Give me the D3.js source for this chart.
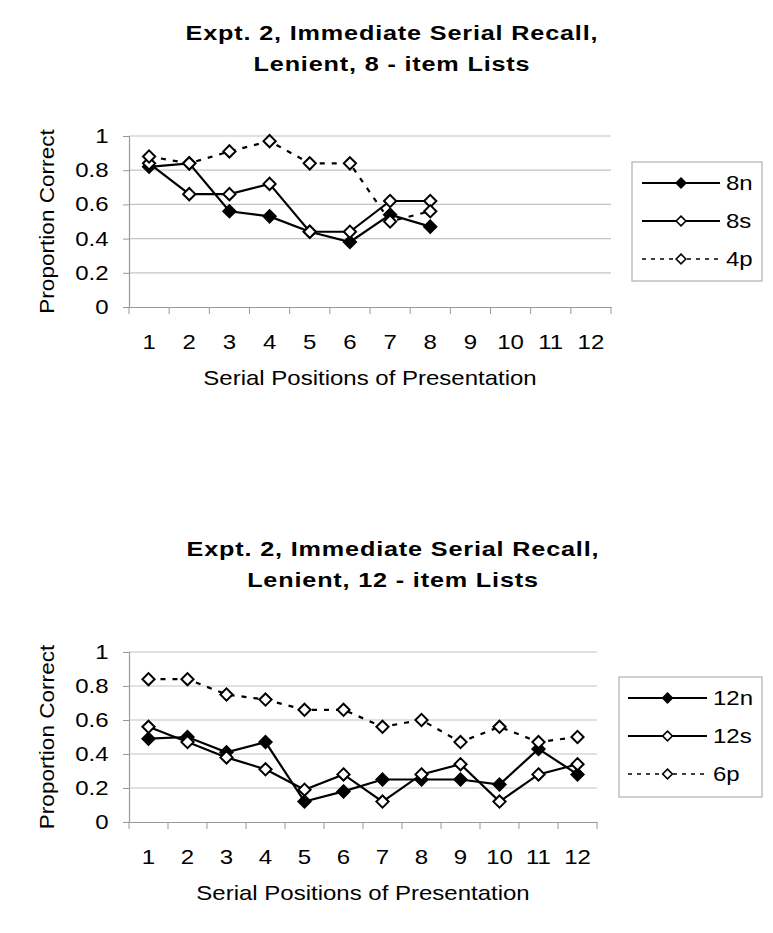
<!DOCTYPE html>
<html>
<head>
<meta charset="utf-8">
<script src="https://cdn.jsdelivr.net/npm/d3@7"></script>
<style>
    body { margin: 0; background: #fff; }
    svg { display: block; font-family: "Liberation Sans", Arial, sans-serif; }
</style>
</head>
<body>
<svg id="chart" width="773" height="933"></svg>
<script>
// serial positions on the x axis (same for both panels)
var positions = ["1", "2", "3", "4", "5", "6", "7", "8", "9", "10", "11", "12"];
var yTicks = [0, 0.2, 0.4, 0.6, 0.8, 1];

// panel 1: 8-item lists
var top8n = [0.82, 0.84, 0.56, 0.53, 0.44, 0.38, 0.54, 0.47];
var top8s = [0.84, 0.66, 0.66, 0.72, 0.44, 0.44, 0.62, 0.62];
var top4p = [0.88, 0.84, 0.91, 0.97, 0.84, 0.84, 0.50, 0.56];

// panel 2: 12-item lists
var bot12n = [0.49, 0.50, 0.41, 0.47, 0.12, 0.18, 0.25, 0.25, 0.25, 0.22, 0.43, 0.28];
var bot12s = [0.56, 0.47, 0.38, 0.31, 0.19, 0.28, 0.12, 0.28, 0.34, 0.12, 0.28, 0.34];
var bot6p  = [0.84, 0.84, 0.75, 0.72, 0.66, 0.66, 0.56, 0.60, 0.47, 0.56, 0.47, 0.50];

var svg = d3.select("#chart");
svg.append("rect").attr("width", 773).attr("height", 933).attr("fill", "#fff");

var diamond = d3.symbol().type(d3.symbolDiamond2).size(95);

// the scanned chart's lettering is wider than Liberation Sans, so stretch it a bit
var SX = 1.2;

function label(parent, x, y, str, size, sx, anchor)
{
    return parent.append("text")
        .attr("transform", "translate(" + x + "," + y + ") scale(" + sx + ",1)")
        .attr("text-anchor", anchor || "start")
        .attr("font-size", size)
        .text(str);
}

function drawPanel(cfg)
{
    var g = svg.append("g");

    var x = d3.scaleBand().domain(positions).range([cfg.left, cfg.right]);
    var y = d3.scaleLinear().domain([0, 1]).range([cfg.bottom, cfg.top]);

    // title, two lines
    cfg.title.forEach((t, i) => {
        label(g, cfg.titleX, cfg.titleY + i * 31, t, 21, 1.2, "middle")
            .attr("font-weight", "bold")
            .attr("letter-spacing", 0.7);
    });

    // gridlines
    g.selectAll(".grid").data(yTicks.filter(d => d > 0)).enter()
        .append("line")
        .attr("x1", cfg.left).attr("x2", cfg.right)
        .attr("y1", d => y(d)).attr("y2", d => y(d))
        .attr("stroke", "#c4c4c4").attr("stroke-width", 1.2);

    var yAxis = g.append("g")
        .attr("transform", "translate(" + cfg.left + ",0)")
        .call(d3.axisLeft(y).tickValues(yTicks).tickSize(6).tickPadding(11).tickFormat(d3.format("")));

    var xAxis = g.append("g")
        .attr("transform", "translate(0," + cfg.bottom + ")")
        .call(d3.axisBottom(x).tickSize(0).tickPadding(28));

    // excel style: ticks sit between categories
    xAxis.selectAll(".sep").data(d3.range(positions.length + 1)).enter()
        .append("line")
        .attr("x1", i => cfg.left + i * x.bandwidth())
        .attr("x2", i => cfg.left + i * x.bandwidth())
        .attr("y1", 0).attr("y2", 7)
        .attr("stroke", "#999");

    [yAxis, xAxis].forEach(a => {
        a.select(".domain").attr("stroke", "#999").attr("stroke-width", 1.2);
        a.selectAll(".tick line").attr("stroke", "#999");
        a.selectAll("text").attr("font-size", 20).attr("fill", "#000")
            .attr("font-family", "Liberation Sans, Arial, sans-serif")
            .attr("transform", "scale(" + SX + ",1)");
    });

    g.append("text")
        .attr("transform", "translate(" + 54 + "," + ((cfg.top + cfg.bottom) / 2) + ") rotate(-90) scale(1.13,1)")
        .attr("text-anchor", "middle")
        .attr("font-size", 20)
        .text("Proportion Correct");

    label(g, (cfg.left + cfg.right) / 2, cfg.bottom + 78, "Serial Positions of Presentation", 20, SX, "middle");

    var line = d3.line()
        .x((d, i) => x(positions[i]) + x.bandwidth() / 2)
        .y(d => y(d));

    cfg.series.forEach(s => {
        g.append("path")
            .attr("d", line(s.values))
            .attr("fill", "none")
            .attr("stroke", "#000")
            .attr("stroke-width", 2.2)
            .attr("stroke-dasharray", s.dashed ? "5,7" : null);

        g.selectAll(null).data(s.values).enter()
            .append("path")
            .attr("d", diamond)
            .attr("transform", (d, i) => "translate(" + (x(positions[i]) + x.bandwidth() / 2) + "," + y(d) + ")")
            .attr("fill", s.filled ? "#000" : "#fff")
            .attr("stroke", "#000")
            .attr("stroke-width", 2);
    });

    // legend
    var lg = cfg.legend;
    g.append("rect")
        .attr("x", lg.x).attr("y", lg.y)
        .attr("width", lg.w).attr("height", lg.h)
        .attr("fill", "#fff").attr("stroke", "#b0b0b0").attr("stroke-width", 1.2);

    cfg.series.forEach((s, i) => {
        var ly = lg.y + 21 + i * 38;
        g.append("line")
            .attr("x1", lg.lineX0).attr("x2", lg.lineX1)
            .attr("y1", ly).attr("y2", ly)
            .attr("stroke", "#000")
            .attr("stroke-width", s.dashed ? 1.5 : 2)
            .attr("stroke-dasharray", s.dashed ? "4,5" : null);
        g.append("path")
            .attr("d", d3.symbol().type(d3.symbolDiamond2).size(60))
            .attr("transform", "translate(" + ((lg.lineX0 + lg.lineX1) / 2) + "," + ly + ")")
            .attr("fill", s.filled ? "#000" : "#fff")
            .attr("stroke", "#000").attr("stroke-width", 1.6);
        label(g, lg.lineX1 + 6, ly + 7, s.name, 20, SX);
    });
}

drawPanel({
    title: ["Expt. 2, Immediate Serial Recall,", "Lenient, 8 - item Lists"],
    titleX: 392, titleY: 40,
    left: 129, right: 611, top: 136, bottom: 307,
    series: [
        {name: "8n", values: top8n, filled: true, dashed: false},
        {name: "8s", values: top8s, filled: false, dashed: false},
        {name: "4p", values: top4p, filled: false, dashed: true}
    ],
    legend: {x: 632, y: 162, w: 130, h: 119, lineX0: 642, lineX1: 720}
});

drawPanel({
    title: ["Expt. 2, Immediate Serial Recall,", "Lenient, 12 - item Lists"],
    titleX: 393, titleY: 556,
    left: 129, right: 597, top: 652, bottom: 822,
    series: [
        {name: "12n", values: bot12n, filled: true, dashed: false},
        {name: "12s", values: bot12s, filled: false, dashed: false},
        {name: "6p", values: bot6p, filled: false, dashed: true}
    ],
    legend: {x: 619, y: 677, w: 143, h: 120, lineX0: 628, lineX1: 707}
});
</script>
</body>
</html>
